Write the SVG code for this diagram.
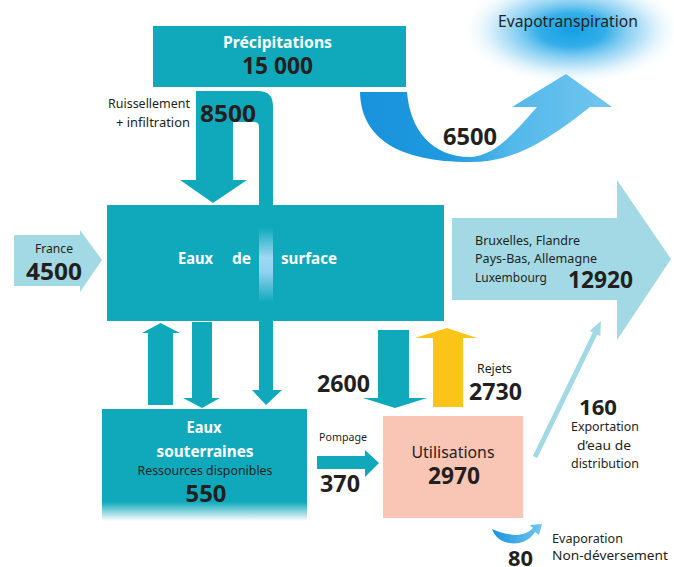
<svg xmlns="http://www.w3.org/2000/svg" width="674" height="567" viewBox="0 0 674 567">
<defs>
<style>
.t{font-family:"Noto Sans","Open Sans","Liberation Sans",sans-serif;fill:#231f20}
.b{font-weight:bold}
.w{fill:#ffffff;font-weight:bold}
.teal{fill:#10a9bc}
.light{fill:#a2d9e4}
</style>
<radialGradient id="cloud" cx="572" cy="30" r="1" gradientUnits="userSpaceOnUse" gradientTransform="translate(572 30) scale(112 56) translate(-572 -30)">
<stop offset="0" stop-color="#12a0e3"/>
<stop offset="0.3" stop-color="#2aaae8" stop-opacity="0.95"/>
<stop offset="0.65" stop-color="#8fd2f3" stop-opacity="0.6"/>
<stop offset="1" stop-color="#ffffff" stop-opacity="0"/>
</radialGradient>
<linearGradient id="u6500" x1="360" y1="0" x2="612" y2="0" gradientUnits="userSpaceOnUse">
<stop offset="0" stop-color="#1893dc"/>
<stop offset="0.35" stop-color="#1e9ae0"/>
<stop offset="0.6" stop-color="#52b8ea"/>
<stop offset="1" stop-color="#72c6ef"/>
</linearGradient>
<linearGradient id="pipe" x1="0" y1="228" x2="0" y2="302" gradientUnits="userSpaceOnUse">
<stop offset="0" stop-color="#10a9bc"/>
<stop offset="0.4" stop-color="#9fd8f2"/>
<stop offset="0.6" stop-color="#8fd2ef"/>
<stop offset="1" stop-color="#10a9bc"/>
</linearGradient>
<linearGradient id="sout" x1="0" y1="409" x2="0" y2="521" gradientUnits="userSpaceOnUse">
<stop offset="0" stop-color="#10a9bc"/>
<stop offset="0.83" stop-color="#10a9bc"/>
<stop offset="1" stop-color="#10a9bc" stop-opacity="0"/>
</linearGradient>
<linearGradient id="evap" x1="492" y1="0" x2="542" y2="0" gradientUnits="userSpaceOnUse">
<stop offset="0" stop-color="#1893dc"/>
<stop offset="1" stop-color="#72c6ef"/>
</linearGradient>
</defs>

<g id="evapotranspiration">
<ellipse cx="572" cy="30" rx="112" ry="56" fill="url(#cloud)"/>
<text class="t" x="498" y="27" font-size="16" textLength="140" lengthAdjust="spacingAndGlyphs" fill="#2a3340">Evapotranspiration</text>
</g>

<g id="precipitations">
<rect x="153" y="26" width="253" height="61" class="teal"/>
<text class="t w" x="277.5" y="48" font-size="16" text-anchor="middle" textLength="109" lengthAdjust="spacingAndGlyphs">Précipitations</text>
<text class="t b" x="277.5" y="74" font-size="23" text-anchor="middle" textLength="71" lengthAdjust="spacingAndGlyphs">15 000</text>
</g>

<g id="connectors">
<path fill="url(#u6500)" d="M360 92 C361 138 398 162 470 162 C515 162 548 140 590 107 L612 107 L566 74 L512 107 L537 107 C515 132 495 156 470 157 C432 157 410 130 407 92 Z"/>
<path class="teal" d="M196 91 L258 91 Q273 91 273 106 L273 206 L259 206 L259 127 Q259 122 254 122 L233 122 L233 180 L247 180 L213 203 L180 180 L196 180 Z"/>
<path class="light" d="M14 235 L80 235 L80 230 L102 260 L80 292 L80 286 L14 286 Z"/>
<path class="light" d="M452 218 L617 218 L617 180 L671 259 L617 340 L617 300 L452 300 Z"/>
<path class="teal" d="M148 405 L148 333 L142 333 L160.5 323 L180 333 L173 333 L173 405 Z"/>
<path class="teal" d="M192 322 L212 322 L212 398 L220 398 L202 408 L183 398 L192 398 Z"/>
<path class="teal" d="M259 321 L273 321 L273 390 L282 390 L266 405 L252 390 L259 390 Z"/>
<path class="teal" d="M378 330 L409 330 L409 398 L427 398 L395 408 L363 398 L378 398 Z"/>
<path fill="#fbc418" d="M433 407 L433 338 L415 338 L447 328 L477 338 L463 338 L463 407 Z"/>
<path class="teal" d="M317 456 L365 456 L365 450 L379 463 L365 477 L365 469 L317 469 Z"/>
<path class="light" d="M532.8 455.9 L537.3 458.1 L597.2 334.7 L600.3 336.2 L601 321 L589.5 331 L592.7 332.5 Z"/>
<path fill="url(#evap)" d="M492 529 C496 541 509 545 519 543 C527 541 532 537 535 532 L539 535 L542 524 L530 525 L533 528 C528 533 522 535 515 535 C505 534 499 532 492 529 Z"/>
</g>

<g id="eaux-surface">
<rect x="107" y="205" width="337" height="116" class="teal"/>
<rect x="259" y="228" width="14" height="74" fill="url(#pipe)"/>
<text class="t w" x="178" y="264" font-size="16" textLength="35" lengthAdjust="spacingAndGlyphs">Eaux</text>
<text class="t w" x="232" y="264" font-size="16" textLength="19" lengthAdjust="spacingAndGlyphs">de</text>
<text class="t w" x="281" y="264" font-size="16" textLength="56" lengthAdjust="spacingAndGlyphs">surface</text>
</g>

<g id="labels-flows">
<text class="t" x="190" y="108" font-size="12" text-anchor="end" textLength="82" lengthAdjust="spacingAndGlyphs">Ruissellement</text>
<text class="t" x="190" y="127" font-size="12" text-anchor="end" textLength="74" lengthAdjust="spacingAndGlyphs">+ infiltration</text>
<text class="t b" x="200" y="122" font-size="23" textLength="56" lengthAdjust="spacingAndGlyphs">8500</text>
<text class="t b" x="443" y="145" font-size="23" textLength="54" lengthAdjust="spacingAndGlyphs">6500</text>
<text class="t b" x="317" y="392" font-size="23" textLength="53" lengthAdjust="spacingAndGlyphs">2600</text>
<text class="t" x="477" y="373" font-size="12" textLength="35" lengthAdjust="spacingAndGlyphs">Rejets</text>
<text class="t b" x="469" y="400" font-size="23" textLength="53" lengthAdjust="spacingAndGlyphs">2730</text>
<text class="t" x="319" y="441" font-size="11.5" textLength="48" lengthAdjust="spacingAndGlyphs">Pompage</text>
<text class="t b" x="320" y="492" font-size="23" textLength="40" lengthAdjust="spacingAndGlyphs">370</text>
<text class="t b" x="579" y="415" font-size="22" textLength="38" lengthAdjust="spacingAndGlyphs">160</text>
<text class="t" x="605" y="431" font-size="12" text-anchor="middle" textLength="68" lengthAdjust="spacingAndGlyphs">Exportation</text>
<text class="t" x="604" y="450" font-size="12" text-anchor="middle" textLength="54" lengthAdjust="spacingAndGlyphs">d’eau de</text>
<text class="t" x="605" y="468" font-size="12" text-anchor="middle" textLength="68" lengthAdjust="spacingAndGlyphs">distribution</text>
<text class="t b" x="508" y="566" font-size="22" textLength="25" lengthAdjust="spacingAndGlyphs">80</text>
<text class="t" x="552" y="543" font-size="12" textLength="71" lengthAdjust="spacingAndGlyphs">Evaporation</text>
<text class="t" x="552" y="560" font-size="12" textLength="116" lengthAdjust="spacingAndGlyphs">Non-déversement</text>
</g>

<g id="france">
<text class="t" x="54" y="253" font-size="12" text-anchor="middle" textLength="38" lengthAdjust="spacingAndGlyphs">France</text>
<text class="t b" x="54" y="280" font-size="23" text-anchor="middle" textLength="56" lengthAdjust="spacingAndGlyphs">4500</text>
</g>

<g id="export">
<text class="t" x="475" y="245" font-size="12.5" textLength="105" lengthAdjust="spacingAndGlyphs">Bruxelles, Flandre</text>
<text class="t" x="475" y="263" font-size="12.5" textLength="122" lengthAdjust="spacingAndGlyphs">Pays-Bas, Allemagne</text>
<text class="t" x="475" y="282" font-size="12.5" textLength="72" lengthAdjust="spacingAndGlyphs">Luxembourg</text>
<text class="t b" x="568" y="288" font-size="23" textLength="65" lengthAdjust="spacingAndGlyphs">12920</text>
</g>

<g id="eaux-souterraines">
<rect x="102" y="409" width="205" height="112" fill="url(#sout)"/>
<text class="t w" x="204" y="433" font-size="16" text-anchor="middle" textLength="35" lengthAdjust="spacingAndGlyphs">Eaux</text>
<text class="t w" x="205" y="457" font-size="16" text-anchor="middle" textLength="97" lengthAdjust="spacingAndGlyphs">souterraines</text>
<text class="t" x="205" y="475" font-size="12" text-anchor="middle" textLength="135" lengthAdjust="spacingAndGlyphs">Ressources disponibles</text>
<text class="t b" x="206" y="502" font-size="23" text-anchor="middle" textLength="41" lengthAdjust="spacingAndGlyphs">550</text>
</g>

<g id="utilisations">
<rect x="383" y="416" width="140" height="102" fill="#f9c5b4"/>
<text class="t" x="453" y="458" font-size="17" text-anchor="middle" textLength="83" lengthAdjust="spacingAndGlyphs">Utilisations</text>
<text class="t b" x="454" y="484" font-size="23" text-anchor="middle" textLength="52" lengthAdjust="spacingAndGlyphs">2970</text>
</g>
</svg>
